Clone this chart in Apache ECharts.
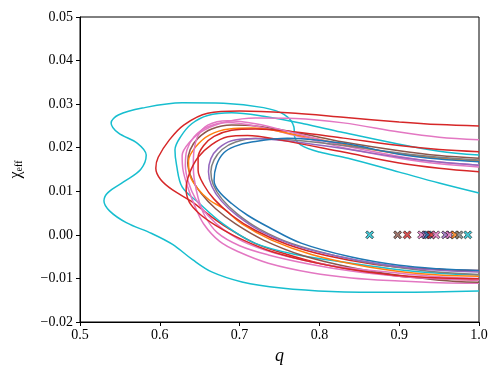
<!DOCTYPE html>
<html><head><meta charset="utf-8">
<script src="https://cdn.jsdelivr.net/npm/echarts@6/dist/echarts.min.js"></script>
<style>html,body{margin:0;padding:0;background:#fff}#c{width:500px;height:375px}</style>
</head><body><div id="c"></div>
<script>
// contour data: [q, chi_eff]
const cyanOuter = [[1.0,0.0096],[0.95,0.0119],[0.9,0.0144],[0.836,0.0176],[0.8,0.0190],[0.777,0.0206],[0.769,0.0225],[0.768,0.0248],[0.756,0.0276],[0.73,0.0292],[0.68,0.0302],[0.628,0.0303],[0.578,0.0291],[0.548,0.0275],[0.539,0.0257],[0.548,0.0234],[0.572,0.0210],[0.583,0.0183],[0.576,0.0150],[0.555,0.0122],[0.535,0.0097],[0.530,0.0078],[0.537,0.0055],[0.558,0.0028],[0.59,0.0003],[0.616,-0.0022],[0.641,-0.0057],[0.665,-0.0085],[0.703,-0.0108],[0.752,-0.0122],[0.815,-0.0130],[0.9,-0.0132],[1.0,-0.0129]];
const redOuter = [[1.0,0.0250],[0.95,0.0253],[0.9,0.0259],[0.83,0.0270],[0.76,0.0280],[0.70,0.0284],[0.66,0.0279],[0.63,0.0252],[0.612,0.0218],[0.598,0.0178],[0.595,0.0153],[0.601,0.0127],[0.616,0.0103],[0.641,0.0075],[0.66,0.0048],[0.685,0.0016],[0.72,-0.0020],[0.76,-0.0045],[0.8,-0.0065],[0.85,-0.0082],[0.9,-0.0095],[0.95,-0.0101],[1.0,-0.0104]];
const cyanInner = [[1.0,0.0183],[0.95,0.0192],[0.9,0.0208],[0.827,0.0236],[0.78,0.0255],[0.73,0.0272],[0.69,0.0280],[0.66,0.0274],[0.64,0.0255],[0.626,0.0225],[0.619,0.0195],[0.621,0.0160],[0.628,0.0110],[0.649,0.0073],[0.678,0.0027],[0.719,-0.0019],[0.77,-0.0045],[0.84,-0.0065],[0.9,-0.0080],[0.95,-0.0088],[1.0,-0.0092]];
const pinkA = [[1.0,0.0218],[0.95,0.0224],[0.9,0.0236],[0.83,0.0257],[0.77,0.0267],[0.72,0.0268],[0.685,0.0260],[0.655,0.0240],[0.637,0.0212],[0.628,0.0182],[0.629,0.0150],[0.634,0.0115],[0.643,0.0070],[0.655,0.0025],[0.675,-0.0015],[0.70,-0.0040],[0.736,-0.0065],[0.79,-0.0087],[0.84,-0.0099],[0.9,-0.0106],[0.95,-0.0110],[1.0,-0.0111]];
const brown = [[1.0,0.0176],[0.95,0.0182],[0.9,0.0193],[0.83,0.0213],[0.77,0.0235],[0.72,0.0250],[0.69,0.0252],[0.665,0.0243],[0.648,0.0222],[0.638,0.0195],[0.635,0.0165],[0.64,0.0130],[0.652,0.0095],[0.67,0.0060],[0.695,0.0025],[0.73,-0.0012],[0.78,-0.0048],[0.84,-0.0075],[0.9,-0.0093],[0.95,-0.0104],[1.0,-0.0109]];
const orange = [[1.0,0.0170],[0.95,0.0176],[0.9,0.0186],[0.83,0.0208],[0.77,0.0230],[0.715,0.0245],[0.687,0.0243],[0.662,0.0229],[0.645,0.0202],[0.636,0.0170],[0.638,0.0135],[0.648,0.0105],[0.662,0.0080],[0.68,0.0060],[0.703,0.0025],[0.74,-0.0012],[0.79,-0.0045],[0.85,-0.0070],[0.9,-0.0084],[0.95,-0.0092],[1.0,-0.0095]];
const redB = [[1.0,0.0145],[0.95,0.0153],[0.9,0.0165],[0.83,0.0190],[0.75,0.0218],[0.71,0.0228],[0.685,0.0225],[0.665,0.0207],[0.648,0.0178],[0.637,0.0140],[0.633,0.0105],[0.637,0.0075],[0.65,0.0048],[0.67,0.0022],[0.7,-0.0008],[0.74,-0.0038],[0.8,-0.0066],[0.86,-0.0085],[0.92,-0.0096],[1.0,-0.0101]];
const redC = [[1.0,0.0191],[0.95,0.0196],[0.9,0.0205],[0.83,0.0222],[0.77,0.0236],[0.72,0.0243],[0.69,0.0240],[0.668,0.0226],[0.655,0.0205],[0.648,0.0178],[0.648,0.0148],[0.655,0.0115],[0.668,0.0082],[0.69,0.0045],[0.72,0.0010],[0.76,-0.0022],[0.81,-0.0048],[0.87,-0.0068],[0.93,-0.0078],[1.0,-0.0082]];
const pinkB = [[1.0,0.0160],[0.95,0.0167],[0.9,0.0180],[0.83,0.0205],[0.77,0.0233],[0.72,0.0255],[0.685,0.0262],[0.66,0.0252],[0.648,0.0228],[0.643,0.0195],[0.642,0.0160],[0.643,0.0130],[0.648,0.0085],[0.656,0.0045],[0.672,0.0005],[0.70,-0.0025],[0.736,-0.0046],[0.79,-0.0068],[0.84,-0.0083],[0.9,-0.0095],[0.95,-0.0101],[1.0,-0.0104]];
const pinkC = [[1.0,0.0156],[0.95,0.0163],[0.9,0.0176],[0.83,0.0200],[0.77,0.0228],[0.72,0.0250],[0.685,0.0258],[0.66,0.0248],[0.643,0.0225],[0.634,0.0195],[0.632,0.0160],[0.636,0.0120],[0.645,0.0082],[0.66,0.0045],[0.68,0.0012],[0.71,-0.0020],[0.76,-0.0050],[0.82,-0.0072],[0.9,-0.0088],[0.95,-0.0096],[1.0,-0.0100]];
const gray = [[1.0,0.0172],[0.95,0.0178],[0.9,0.0188],[0.83,0.0205],[0.77,0.0217],[0.72,0.0221],[0.695,0.0213],[0.678,0.0196],[0.668,0.0172],[0.664,0.0145],[0.667,0.0115],[0.678,0.0082],[0.697,0.0048],[0.725,0.0013],[0.765,-0.0020],[0.82,-0.0048],[0.88,-0.0070],[0.94,-0.0084],[1.0,-0.0091]];
const purple = [[1.0,0.0160],[0.95,0.0167],[0.9,0.0178],[0.83,0.0198],[0.77,0.0213],[0.72,0.0221],[0.69,0.0216],[0.673,0.0198],[0.664,0.0175],[0.661,0.0145],[0.665,0.0112],[0.677,0.0078],[0.697,0.0044],[0.727,0.0008],[0.767,-0.0023],[0.82,-0.0048],[0.88,-0.0068],[0.94,-0.0080],[1.0,-0.0085]];
const blue = [[1.0,0.0168],[0.95,0.0174],[0.9,0.0185],[0.83,0.0210],[0.76,0.0222],[0.715,0.0213],[0.694,0.0203],[0.68,0.0188],[0.671,0.0160],[0.668,0.0125],[0.674,0.0100],[0.69,0.0072],[0.71,0.0045],[0.736,0.0018],[0.777,-0.0019],[0.84,-0.0051],[0.9,-0.0070],[0.95,-0.0078],[1.0,-0.0082]];

// marker (best-fit) points
const markerQ = [0.863, 0.898, 0.910, 0.928, 0.933, 0.936, 0.940, 0.946, 0.958, 0.963, 0.970, 0.975, 0.986];
const markerChi = [0, 0, 0, 0, 0, 0, 0, 0, 0, 0, 0, 0, 0];
const markerGroup = ['cyan','brown','red','pink','purple','blue','red','pink','purple','pink','orange','gray','cyan'];

// ticks
const xTicks = [0.5, 0.6, 0.7, 0.8, 0.9, 1.0];
const yTicks = [-0.02, -0.01, 0.00, 0.01, 0.02, 0.03, 0.04, 0.05];

// styles
const palette = {blue:'#1f77b4', orange:'#ff7f0e', red:'#d62728', purple:'#9467bd', brown:'#8c564b', pink:'#e377c2', gray:'#7f7f7f', cyan:'#17becf'};
const contours = [
  [cyanOuter,'cyan'],[redOuter,'red'],[cyanInner,'cyan'],[pinkA,'pink'],[brown,'brown'],[pinkC,'pink'],
  [orange,'orange'],[redC,'red'],[pinkB,'pink'],[gray,'gray'],[purple,'purple'],[redB,'red'],[blue,'blue']
];

const font = 'Liberation Serif, DejaVu Serif, serif';
const series = contours.map(([d,c]) => ({
  type:'line', data:d, showSymbol:false, smooth:0.35, clip:true,
  lineStyle:{color:palette[c], width:1.5}, itemStyle:{color:palette[c]}, silent:true, z:2
}));
series.push({
  type:'scatter', data: markerQ.map((q,i)=>[q, markerChi[i]]), z:5,
  symbol:'path://M0,2 L2,0 L5,3 L8,0 L10,2 L7,5 L10,8 L8,10 L5,7 L2,10 L0,8 L3,5 Z',
  symbolSize:8,
  itemStyle:{color:(p)=>palette[markerGroup[p.dataIndex]], borderColor:'#111', borderWidth:0.8}
});

const chart = echarts.init(document.getElementById('c'), null, {renderer:'canvas'});
chart.setOption({
  animation:false,
  grid:{left:77, right:21, top:17, bottom:53, show:true, borderColor:'#000', borderWidth:1, backgroundColor:'transparent'},
  xAxis:{type:'value', min:xTicks[0], max:xTicks[xTicks.length-1], interval:0.1,
    name:'q', nameLocation:'middle', nameGap:24,
    nameTextStyle:{fontFamily:font, fontStyle:'italic', fontSize:18, color:'#000'},
    axisLine:{onZero:false, lineStyle:{color:'#000', width:1}},
    axisTick:{length:4, lineStyle:{color:'#000'}},
    axisLabel:{fontFamily:font, fontSize:14, color:'#000', margin:6, formatter:v=>v.toFixed(1)},
    splitLine:{show:false}},
  yAxis:{type:'value', min:yTicks[0], max:yTicks[yTicks.length-1], interval:0.01,
    name:'{a|χ}{b|eff}', nameLocation:'middle', nameGap:56, nameRotate:90,
    nameTextStyle:{fontFamily:font, color:'#000', rich:{a:{fontFamily:font, fontSize:16, color:'#000'}, b:{fontFamily:font, fontSize:10, color:'#000', verticalAlign:'bottom', padding:[6,0,0,0]}}},
    axisLine:{onZero:false, lineStyle:{color:'#000', width:1}},
    axisTick:{length:4, lineStyle:{color:'#000'}},
    axisLabel:{fontFamily:font, fontSize:14, color:'#000', margin:7,
      formatter:v=>Math.abs(v)<1e-9 ? '0.00' : (v<0?'\u2212':'')+Math.abs(v).toFixed(2)},
    splitLine:{show:false}},
  series
});
</script></body></html>
